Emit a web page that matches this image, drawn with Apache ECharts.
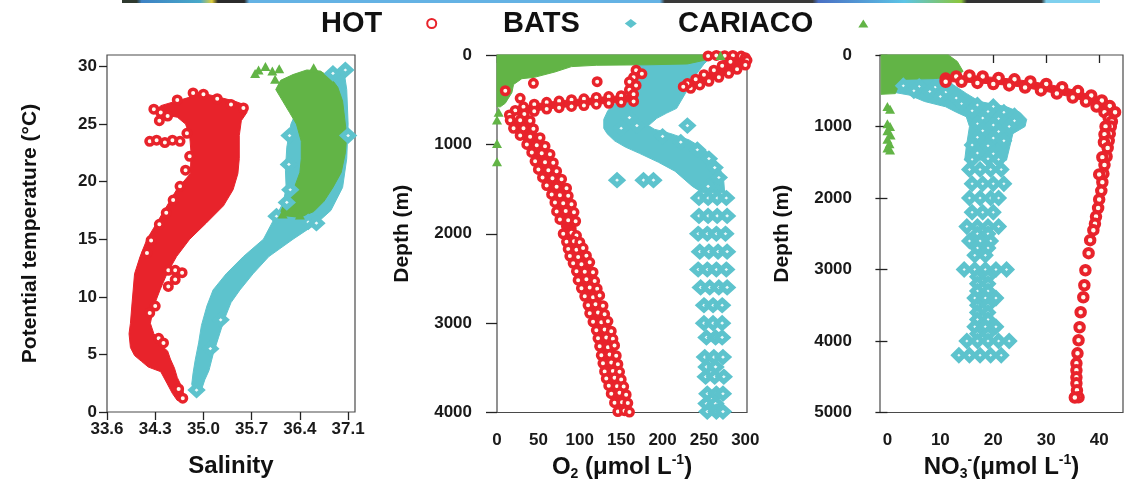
<!DOCTYPE html>
<html><head><meta charset="utf-8">
<script src="https://cdn.jsdelivr.net/npm/echarts@6/dist/echarts.min.js"></script>
<style>html,body{margin:0;padding:0;background:#fff}#c{width:1128px;height:479px}</style>
</head><body><div id="c"></div>
<script>
// ---------- stations ----------
const stations = ['HOT', 'BATS', 'CARIACO'];
// ---------- tick labels ----------
const salTicks = [33.6, 34.3, 35.0, 35.7, 36.4, 37.1];
const tempTicks = [0, 5, 10, 15, 20, 25, 30];
const o2Ticks = [0, 50, 100, 150, 200, 250, 300];
const o2DepthTicks = [0, 1000, 2000, 3000, 4000];
const no3Ticks = [0, 10, 20, 30, 40];
const no3DepthTicks = [0, 1000, 2000, 3000, 4000, 5000];

// ---------- Panel 1: salinity (x) vs potential temperature (y) ----------
const tsHotBand = [[34.73,0.9],[34.70,2.0],[34.62,3.0],[34.58,3.8],[34.52,4.6],[34.48,5.3],[34.42,5.6],[34.35,6.3],[34.28,6.8],[34.23,7.7],[34.28,9.2],[34.37,10.6],[34.47,12.0],[34.61,13.5],[34.80,15.0],[35.04,16.4],[35.29,17.9],[35.43,19.3],[35.50,20.7],[35.52,22.0],[35.52,24.0],[35.55,25.3],[35.63,26.0],[35.63,26.6],[35.45,27.0],[35.25,27.3],[35.05,27.6],[34.88,27.8],[34.78,27.3],[34.55,26.9],[34.38,26.6],[34.30,26.1],[34.42,25.8],[34.62,25.6],[34.74,25.0],[34.80,24.0],[34.82,22.5],[34.81,20.7],[34.61,19.3],[34.47,17.9],[34.32,16.4],[34.18,15.0],[34.08,13.5],[34.00,12.0],[33.98,10.6],[33.96,9.2],[33.94,7.7],[33.92,6.8],[33.94,5.6],[34.00,4.9],[34.10,4.4],[34.20,3.9],[34.38,3.5],[34.47,2.5],[34.55,1.6],[34.62,1.0]];
const tsHotPts = [[34.22,23.5],[34.32,23.6],[34.44,23.4],[34.55,23.6],[34.66,23.5],[34.76,24.2],[34.28,26.3],[34.38,26.0],[34.48,25.7],[34.36,25.3],[34.62,27.1],[34.85,27.7],[35.00,27.6],[35.20,27.2],[35.40,26.7],[35.58,26.4],[34.49,12.3],[34.59,12.3],[34.69,12.1],[34.59,11.5],[34.49,10.9],[34.30,9.2],[34.22,8.6],[34.35,6.4],[34.42,6.0],[34.18,13.8],[34.24,14.9],[34.36,16.3],[34.46,17.3],[34.56,18.4],[34.66,19.6],[34.74,21.0],[34.80,22.2],[34.64,2.0],[34.70,1.2]];
const tsBatsBand = [[34.87,1.8],[34.97,1.9],[35.02,2.8],[35.08,3.6],[35.14,5.0],[35.22,6.5],[35.30,8.0],[35.40,9.5],[35.53,10.6],[35.72,12.0],[35.95,13.5],[36.30,15.0],[36.60,16.2],[36.72,16.8],[36.85,17.5],[37.02,19.5],[37.08,22.0],[37.10,25.0],[37.08,28.0],[37.04,29.6],[36.90,29.7],[36.80,28.5],[36.55,27.5],[36.38,26.5],[36.27,25.0],[36.21,23.0],[36.19,21.0],[36.20,19.5],[36.16,18.2],[36.08,17.3],[36.02,16.7],[35.87,15.0],[35.58,13.5],[35.33,12.0],[35.14,10.6],[35.05,9.2],[34.97,7.5],[34.93,6.0],[34.88,4.5],[34.85,3.4],[34.83,2.4]];
const tsBatsPts = [[36.26,19.3],[36.21,18.2],[36.06,17.0],[36.52,16.5],[36.88,29.4],[37.06,29.7],[37.10,24.0],[36.64,16.4],[34.90,1.9],[36.24,21.5],[36.25,24.0],[35.10,5.5],[35.25,8.0]];
const tsCariacoBand = [[36.10,17.1],[36.40,16.9],[36.60,17.4],[36.75,18.3],[36.88,19.5],[37.00,20.8],[37.06,22.5],[37.08,24.0],[37.05,25.5],[37.02,27.0],[36.95,28.2],[36.85,29.0],[36.70,29.6],[36.50,29.7],[36.30,29.3],[36.12,28.8],[36.05,28.0],[36.15,27.0],[36.25,26.0],[36.35,25.0],[36.42,23.5],[36.42,22.0],[36.40,20.8],[36.32,19.5],[36.18,18.2]];
const tsCariacoPts = [[35.75,29.4],[35.80,29.7],[35.90,30.0],[36.00,29.6],[36.04,28.9],[36.10,29.8],[36.60,29.9],[36.40,17.1],[36.15,17.2]];

// ---------- Panel 2: O2 (x) vs depth (y) ----------
const o2HotBand = [[165,440],[150,455],[135,465],[120,475],[105,490],[90,500],[75,515],[60,530],[45,550],[32,580],[22,620],[15,670],[16,730],[20,820],[28,900],[42,1090],[50,1280],[60,1460],[70,1650],[76,1840],[80,2000],[86,2170],[92,2330],[98,2520],[106,2700],[112,2890],[120,3080],[124,3260],[128,3450],[132,3620],[138,3790],[146,3990],[160,3995],[156,3800],[150,3630],[146,3460],[142,3250],[138,3090],[130,2900],[124,2690],[118,2530],[112,2320],[104,2160],[96,2020],[95,1860],[90,1670],[84,1490],[72,1300],[64,1110],[52,925],[44,825],[40,735],[24,700],[33,660],[45,630],[60,605],[75,590],[90,575],[105,565],[120,550],[135,540],[150,530],[165,520]];
const o2HotTopBand = [[255,5],[300,5],[303,60],[300,112],[290,160],[280,205],[268,250],[256,295],[245,335],[234,373],[225,355],[230,320],[240,270],[250,220],[262,170],[272,120],[282,75],[270,30]];
const o2HotPts = [
 [255,10],[265,5],[275,8],[285,5],[295,12],[300,30],
 [302,60],[300,112],[290,160],[280,205],[268,250],[256,295],[245,335],[234,373],
 [282,75],[272,120],[262,170],[250,220],[240,270],[230,320],[225,355],
 [168,170],[175,210],[165,250],[160,300],[168,340],[160,390],
 [44,317],[121,298],[28,485],[10,400],
 [165,440],[150,455],[135,465],[120,475],[105,490],[90,500],[75,515],[60,530],[45,550],[32,580],[22,620],[15,670],
 [165,520],[150,530],[135,540],[120,550],[105,565],[90,575],[75,590],[60,605],[45,630],[33,660],[24,700],
 [16,730],[28,730],[40,735],[20,820],[32,820],[44,825],[28,900],[40,915],[52,925],
 [36,1000],[48,1010],[58,1020],
 [42,1090],[54,1100],[64,1110],[46,1190],[58,1200],[68,1205],[50,1280],[62,1290],[72,1300],[55,1370],[67,1380],[78,1390],[60,1460],[72,1475],[84,1490],
 [66,1560],[76,1570],[86,1575],[70,1650],[80,1660],[90,1670],[72,1750],[83,1745],[93,1760],[76,1840],[86,1850],[95,1860],[80,2000],[90,1990],[96,2020],
 [84,2090],[93,2085],[100,2095],[86,2170],[96,2180],[104,2160],[88,2250],[98,2260],[108,2245],[92,2330],[102,2340],[112,2320],[96,2420],[106,2425],[116,2430],[98,2520],[108,2510],[118,2530],
 [102,2610],[112,2600],[121,2615],[106,2700],[116,2710],[124,2690],[110,2800],[119,2790],[128,2805],[112,2890],[122,2880],[130,2900],[116,2985],[126,2990],[134,2980],[120,3080],[130,3070],[138,3090],
 [122,3170],[132,3160],[140,3175],[124,3260],[134,3270],[142,3250],[126,3360],[136,3350],[144,3365],[128,3450],[138,3440],[146,3460],[130,3540],[140,3535],[148,3545],[132,3620],[142,3610],[150,3630],
 [135,3700],[145,3705],[153,3710],[138,3790],[148,3780],[156,3800],[142,3890],[151,3885],[158,3895],[146,3990],[154,3980],[160,3995]];
const o2BatsBand = [[170,20],[210,5],[250,5],[258,30],[250,100],[242,200],[235,300],[230,390],[225,470],[217,597],[205,650],[193,709],[183,790],[190,830],[210,880],[232,950],[250,1050],[262,1150],[270,1280],[274,1420],[275,1540],[248,1540],[236,1470],[215,1300],[195,1200],[172,1100],[155,1030],[142,960],[133,880],[129,820],[129,720],[134,620],[141,560],[150,470],[157,390],[162,280],[165,170],[166,80]];
const o2BatsPts = [
 [145,1400],[177,1400],[189,1400],[169,790],[230,790],
 [160,700],[150,820],[200,910],[222,975],[242,1060],[256,1160],[263,1260],[268,1370],[255,1470],
 [244,1600],[255,1600],[266,1600],[277,1600],[244,1800],[255,1800],[266,1800],[278,1800],
 [243,2000],[254,2000],[265,2000],[276,2000],[245,2200],[256,2200],[267,2200],[278,2200],
 [243,2400],[254,2400],[265,2400],[277,2400],[246,2600],[257,2600],[268,2600],[278,2600],
 [250,2800],[261,2800],[272,2800],[250,3000],[261,3000],[272,3000],[253,3160],[264,3160],[272,3160],
 [251,3380],[262,3380],[273,3380],[253,3490],[264,3490],[252,3600],[263,3600],[274,3600],
 [254,3790],[265,3790],[273,3790],[253,3900],[264,3900],[254,3990],[265,3990],[273,3990]];
const o2CariacoBand = [[0,0],[252,0],[262,20],[250,60],[230,100],[180,110],[120,115],[90,130],[70,190],[45,250],[30,265],[20,330],[18,420],[14,480],[10,540],[4,580],[0,580]];
const o2CariacoPts = [[0,728],[0,990],[0,1195],[270,5],[2,640]];

// ---------- Panel 3: NO3 (x) vs depth (y) ----------
const no3HotBand = [[11,330],[13,300],[15.5,285],[18,300],[21,320],[24,340],[27,370],[30,405],[33,450],[36,505],[38.5,565],[40.5,635],[42,715],[43,800],[42.4,930],[42.2,1000],[42.0,1100],[41.8,1200],[41.6,1300],[41.4,1420],[41.0,1540],[40.8,1660],[40.6,1780],[40.4,1900],[40.0,2020],[39.8,2140],[39.4,2260],[39.2,2360],[39.0,2360],[39.4,2140],[39.8,1900],[40.0,1670],[40.6,1430],[40.9,1220],[41.0,1110],[41.2,1000],[41.8,880],[41,800],[39.5,720],[37.5,650],[35,595],[32,540],[29,495],[26,455],[23,425],[20,405],[17,390],[14,375],[11,375]];
const no3HotPts = [
 [11,330],[13,300],[15.5,285],[18,300],[21,320],[24,340],[27,370],[30,405],[33,450],[36,505],[38.5,565],[40.5,635],[42,715],[43,800],
 [11,375],[14,375],[17,390],[20,405],[23,425],[26,455],[29,495],[32,540],[35,595],[37.5,650],[39.5,720],[41,800],[41.8,880],
 [42.4,930],[42.2,1000],[41.2,1000],[42.0,1100],[41.0,1110],[41.8,1200],[40.9,1220],[41.6,1300],[41.4,1420],[40.6,1430],
 [41.0,1540],[40.8,1660],[40.0,1670],[40.6,1780],[40.4,1900],[40.0,2020],[39.8,2140],[39.4,2260],[39.2,2360],
 [38.9,2450],[38.3,2590],[38.0,2772],[37.4,3010],[37.2,3220],[37.0,3388],[36.5,3598],[36.3,3808],[36.1,3990],
 [35.9,4172],[35.7,4312],[35.7,4410],[35.7,4508],[35.7,4592],[35.8,4690],[36.1,4788],[35.4,4790]];
const no3BatsBand = [[-0.5,280],[10.5,280],[11,330],[12.5,420],[14.9,537],[17.4,650],[22.5,724],[25,800],[26.3,900],[26,1000],[23.7,1100],[23.1,1285],[22.5,1470],[14.6,1470],[14.9,1285],[15.5,1000],[14.9,864],[13,800],[11,724],[7,650],[4.1,560],[0.3,510],[-0.5,500]];
const no3BatsPts = [
 [3,430],[6,440],[9,450],[5,500],[8,510],[11,520],[10,580],[13,600],[14,680],[17,700],[20,720],[16,780],[19,790],[22,800],[24,850],
 [18,880],[21,890],[24,920],[17,960],[20,980],[23,1000],[18,1060],[21,1070],[17,1150],[20,1160],[22,1200],[16,1260],[19,1270],[17,1370],[20,1380],[16,1460],[19,1450],[21,1460],
 [15.5,1600],[17.5,1600],[19.5,1600],[21.5,1600],[16,1800],[18,1800],[20,1800],[22,1800],
 [15.5,2000],[17.5,2000],[19.5,2000],[21,2000],[16,2200],[18,2200],[20,2200],
 [15,2400],[17,2400],[19,2400],[21,2400],[17,2500],[19,2500],[15.5,2600],[17.5,2600],[19.5,2600],
 [17,2700],[19,2700],[16.5,2800],[18.5,2800],[14.5,3000],[16.5,3000],[18.5,3000],[20.5,3000],[22.5,3000],
 [17,3100],[19,3100],[17,3200],[19,3200],[17,3300],[19,3300],[16.5,3400],[18.5,3400],[20.5,3400],
 [17,3500],[19,3500],[17,3600],[19,3600],[17,3700],[19,3700],[16.5,3800],[18.5,3800],[20.5,3800],
 [17,3900],[19,3900],[15,4000],[17,4000],[19,4000],[21,4000],[23,4000],
 [13.5,4200],[15.5,4200],[17.5,4200],[19.5,4200],[21.5,4200]];
const no3CariacoBand = [[-1.2,0],[11.5,0],[13.2,90],[14.3,230],[12.5,300],[9,330],[3,340],[2,450],[1.5,540],[-1.2,550]];
const no3CariacoPts = [[0,720],[0.5,760],[0,960],[0.5,1000],[0,1060],[0.6,1120],[0,1180],[0.4,1240],[0,1300],[0.5,1330]];

// ---------- styling ----------
const RED = '#e8232b', CYAN = '#5dc3cd', GREEN = '#62b446';
const FONT = "'Liberation Sans', Arial, sans-serif";
const chart = echarts.init(document.getElementById('c'), null, {renderer: 'canvas'});

function polySeries(name, gi, data, color) {
  return {
    type: 'custom', name: name, xAxisIndex: gi, yAxisIndex: gi, data: data, silent: true,
    itemStyle: {color: color},
    renderItem: function (params, api) {
      if (params.dataIndex !== 0) return null;
      const pts = data.map(function (p) { return api.coord(p); });
      return {type: 'polygon', shape: {points: pts}, style: {fill: color, stroke: color, lineWidth: 1}};
    }
  };
}
function hotPts(gi, data, size, bw) {
  return {type: 'scatter', name: 'HOT', xAxisIndex: gi, yAxisIndex: gi, data: data, silent: true,
    symbol: 'circle', symbolSize: size || 7.5,
    itemStyle: {color: '#fffaf0', borderColor: RED, borderWidth: bw || 3.5, opacity: 1}};
}
function batsPts(gi, data, size) {
  return {type: 'scatter', name: 'BATS', xAxisIndex: gi, yAxisIndex: gi, data: data, silent: true,
    symbol: 'diamond', symbolSize: size || [11, 10],
    itemStyle: {color: '#eef9fa', borderColor: CYAN, borderWidth: 5, opacity: 1}};
}
function cariacoPts(gi, data) {
  return {type: 'scatter', name: 'CARIACO', xAxisIndex: gi, yAxisIndex: gi, data: data, silent: true,
    symbol: 'triangle', symbolSize: [10, 9], itemStyle: {color: GREEN, opacity: 1}};
}

const tickLabel = {fontSize: 17, fontWeight: 'bold', color: '#1a1a1a', fontFamily: FONT};
const nameStyle = {fontSize: 24, fontWeight: 'bold', color: '#111', fontFamily: FONT};
const richName = {
  b: {fontSize: 24, fontWeight: 'bold', color: '#111', fontFamily: FONT, lineHeight: 28},
  s: {fontSize: 14, fontWeight: 'bold', color: '#111', fontFamily: FONT, verticalAlign: 'bottom'},
  p: {fontSize: 14, fontWeight: 'bold', color: '#111', fontFamily: FONT, verticalAlign: 'top'}
};
const plain = function (v) { return String(v); };

function xAx(gi, min, max, ticks, margin, name, nameGap, fmt, rich) {
  return {gridIndex: gi, type: 'value', min: min, max: max,
    axisLine: {show: false}, splitLine: {show: false},
    axisTick: {show: true, customValues: ticks, length: 8, inside: false, lineStyle: {color: '#222', width: 1.3}},
    axisLabel: Object.assign({customValues: ticks, margin: margin, formatter: fmt || plain}, tickLabel),
    name: name, nameLocation: 'middle', nameGap: nameGap,
    nameTextStyle: Object.assign({}, nameStyle, rich ? {rich: richName} : {})};
}
function yAx(gi, min, max, ticks, margin, tickLen, name, nameGap, inverse) {
  return {gridIndex: gi, type: 'value', min: min, max: max, inverse: inverse,
    axisLine: {show: false}, splitLine: {show: false},
    axisTick: {show: true, customValues: ticks, length: tickLen, lineStyle: {color: '#222', width: 1.3}},
    axisLabel: Object.assign({customValues: ticks, margin: margin, formatter: plain}, tickLabel),
    name: name, nameLocation: 'middle', nameGap: nameGap, nameRotate: 90,
    nameTextStyle: Object.assign({}, nameStyle, {fontSize: 21})};
}
const gridStyle = {show: true, borderColor: '#4a4a4a', borderWidth: 1.2, backgroundColor: 'transparent',
  containLabel: false, outerBoundsMode: 'none'};

function legendItem(name, left, icon, w, h, style) {
  return {show: true, left: left, top: 9, padding: 0, align: 'right', orient: 'horizontal',
    itemWidth: w, itemHeight: h, selectedMode: false,
    textStyle: {fontSize: 29, fontWeight: 'bold', color: '#111', fontFamily: FONT, padding: [0, 40, 0, 0]},
    data: [{name: name, icon: icon, itemStyle: style}]};
}

const option = {
  animation: false,
  backgroundColor: '#fff',
  graphic: [{type: 'rect', left: 122, top: 0, shape: {width: 978, height: 3}, silent: true,
    style: {fill: new echarts.graphic.LinearGradient(0, 0, 1, 0, [
      {offset: 0, color: '#2f3a2f'}, {offset: 0.015, color: '#2f3a2f'}, {offset: 0.02, color: '#3d82c4'},
      {offset: 0.08, color: '#48a9c9'}, {offset: 0.092, color: '#e0cf3a'}, {offset: 0.098, color: '#2b2b2b'},
      {offset: 0.125, color: '#2b2b2b'}, {offset: 0.13, color: '#64b2e4'}, {offset: 0.55, color: '#64b2e4'},
      {offset: 0.555, color: '#3a3a3a'}, {offset: 0.706, color: '#3a3a3a'}, {offset: 0.712, color: '#4a70c4'},
      {offset: 0.8, color: '#5cc4e6'}, {offset: 0.858, color: '#8cc63a'}, {offset: 0.864, color: '#333'},
      {offset: 0.94, color: '#333'}, {offset: 0.945, color: '#7fd0ee'}, {offset: 1, color: '#7fd0ee'}])}}],
  legend: [
    legendItem(stations[0], 321, 'circle', 9, 9, {color: '#fff', borderColor: RED, borderWidth: 2}),
    legendItem(stations[1], 503, 'diamond', 12, 9, {color: CYAN, borderWidth: 0}),
    legendItem(stations[2], 678, 'triangle', 10, 8, {color: GREEN, borderWidth: 0})
  ],
  grid: [
    Object.assign({left: 107, top: 55, width: 248, height: 357}, gridStyle),
    Object.assign({left: 497, top: 55, width: 250, height: 357.5}, gridStyle),
    Object.assign({left: 880, top: 55, width: 243, height: 357.5}, gridStyle)
  ],
  xAxis: [
    xAx(0, 33.6, 37.2, salTicks, 9, 'Salinity', 42, function (v) { return v.toFixed(1); }, false),
    xAx(1, 0, 302, o2Ticks, 19, '{b|O}{s|2}{b| (μmol L}{p|-1}{b|)}', 41, null, true),
    xAx(2, -1.4, 44.5, no3Ticks, 19, '{b|NO}{s|3}{p|-}{b|(μmol L}{p|-1}{b|)}', 41, null, true)
  ],
  yAxis: [
    yAx(0, 0, 31, tempTicks, 10, 8, 'Potential temperature (°C)', 66, false),
    yAx(1, 0, 4000, o2DepthTicks, 25, 11, 'Depth (m)', 84, true),
    yAx(2, 0, 5000, no3DepthTicks, 28, 12, 'Depth (m)', 87, true)
  ],
  series: [
    // Panel 1
    polySeries('BATS', 0, tsBatsBand, CYAN), batsPts(0, tsBatsPts),
    polySeries('HOT', 0, tsHotBand, RED), hotPts(0, tsHotPts),
    polySeries('CARIACO', 0, tsCariacoBand, GREEN), cariacoPts(0, tsCariacoPts),
    // Panel 2
    polySeries('BATS', 1, o2BatsBand, CYAN), batsPts(1, o2BatsPts),
    polySeries('HOT', 1, o2HotBand, RED), polySeries('HOT', 1, o2HotTopBand, RED), hotPts(1, o2HotPts),
    polySeries('CARIACO', 1, o2CariacoBand, GREEN), cariacoPts(1, o2CariacoPts),
    // Panel 3
    polySeries('BATS', 2, no3BatsBand, CYAN), batsPts(2, no3BatsPts, [10, 10]),
    polySeries('HOT', 2, no3HotBand, RED), hotPts(2, no3HotPts, 8.5, 4),
    polySeries('CARIACO', 2, no3CariacoBand, GREEN), cariacoPts(2, no3CariacoPts)
  ]
};
chart.setOption(option);
</script>
</body></html>
